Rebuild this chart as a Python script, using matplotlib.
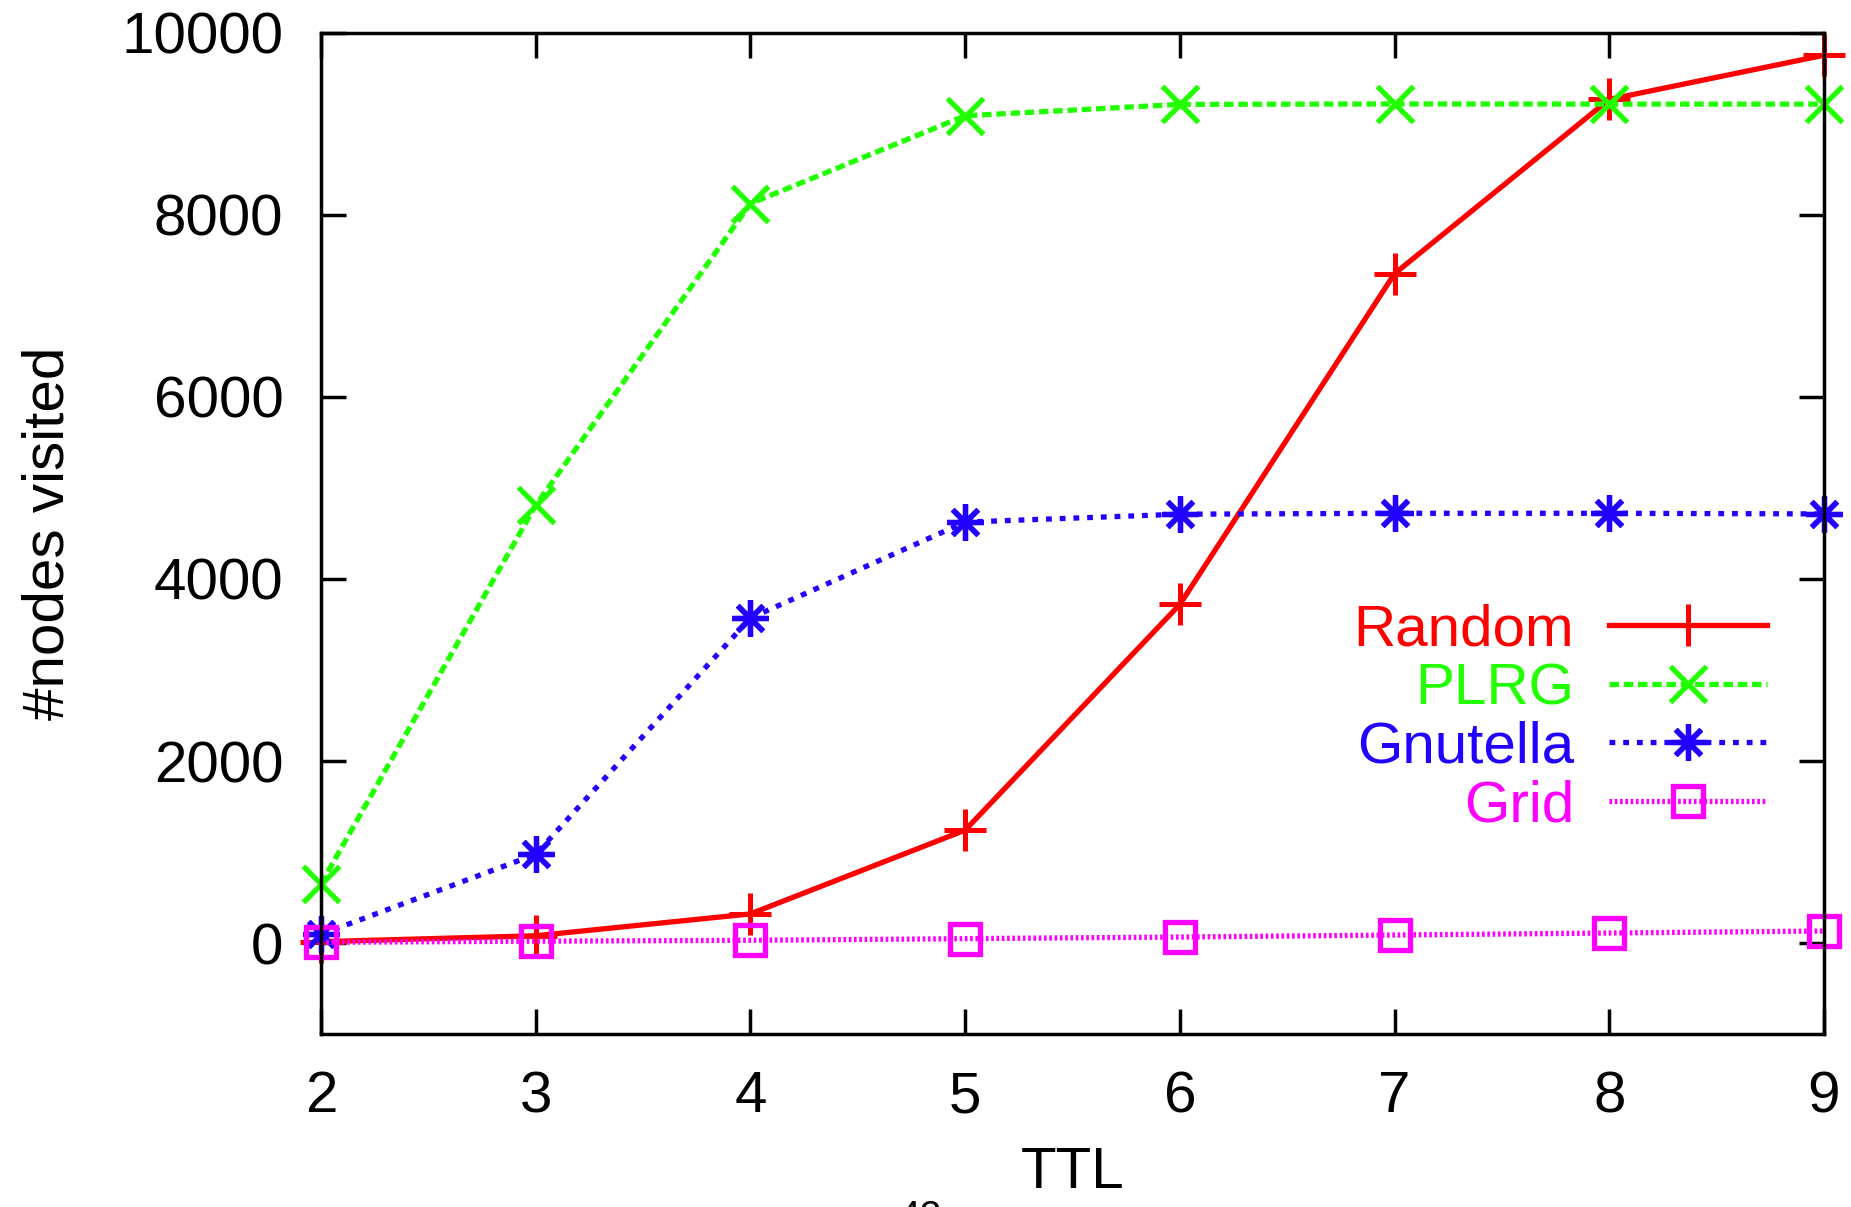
import matplotlib
matplotlib.use("Agg")
import matplotlib.pyplot as plt

plt.rcParams['font.family'] = ['Liberation Sans', 'DejaVu Sans']

ttl = [2, 3, 4, 5, 6, 7, 8, 9]
random_vals = [15, 80, 320, 1240, 3720, 7355, 9270, 9755]
plrg_vals = [650, 4810, 8125, 9090, 9215, 9220, 9218, 9218]
gnutella_vals = [95, 975, 3570, 4625, 4712, 4722, 4722, 4715]
grid_vals = [8, 20, 30, 48, 66, 88, 110, 132]

xticks = [2, 3, 4, 5, 6, 7, 8, 9]
yticks = [0, 2000, 4000, 6000, 8000, 10000]

fig = plt.figure(figsize=(18.51, 12.07), dpi=100)
ax = fig.add_axes([0.1734, 0.1433, 0.8120, 0.8294])

ax.plot(ttl, random_vals, color='#ff0000', lw=3.8, ls='-', marker='+',
        ms=30, mew=3.6, label='Random', clip_on=False, zorder=3)
ax.plot(ttl, plrg_vals, color='#22ff00', lw=3.8, ls=(0, (1.8, 0.9)), marker='x',
        ms=26, mew=3.8, label='PLRG', clip_on=False, zorder=3)
ax.plot(ttl, gnutella_vals, color='#2200ff', lw=3.8, ls=(0, (1.1, 1.5)), marker=(8, 2, 0),
        ms=26, mew=3.8, label='Gnutella', clip_on=False, zorder=3)
ax.plot(ttl, grid_vals, color='#ff00ff', lw=3.8, ls=(0, (0.5, 0.5)), marker='s',
        ms=21, mew=3.8, mfc='none', label='Grid', clip_on=False, zorder=3)

ax.set_xlim(2, 9)
ax.set_ylim(-1000, 10000)
ax.set_xticks(xticks)
ax.set_yticks(yticks)
ax.tick_params(axis='both', which='major', direction='in', length=18, width=2.5,
               top=True, right=True, labelsize=42, colors='black')
ax.tick_params(axis='y', pad=27)
ax.tick_params(axis='x', pad=26)
for s in ax.spines.values():
    s.set_linewidth(2.5)
    s.set_zorder(4)

ax.set_xlabel('TTL', fontsize=42, labelpad=16)
ax.set_ylabel('#nodes visited', fontsize=42, labelpad=33)

leg = ax.legend(loc='upper right', bbox_to_anchor=(0.962, 0.43), frameon=False,
                markerfirst=False, labelcolor='linecolor', fontsize=42,
                handlelength=2.7, handletextpad=0.6, labelspacing=0.08,
                borderpad=0.0, borderaxespad=0.0)
for t in leg.get_texts():
    t.set_ha('right')

fig.text(0.497, 0.006, '42', fontsize=28, ha='center', va='top')

fig.savefig('out.png', dpi=100)
